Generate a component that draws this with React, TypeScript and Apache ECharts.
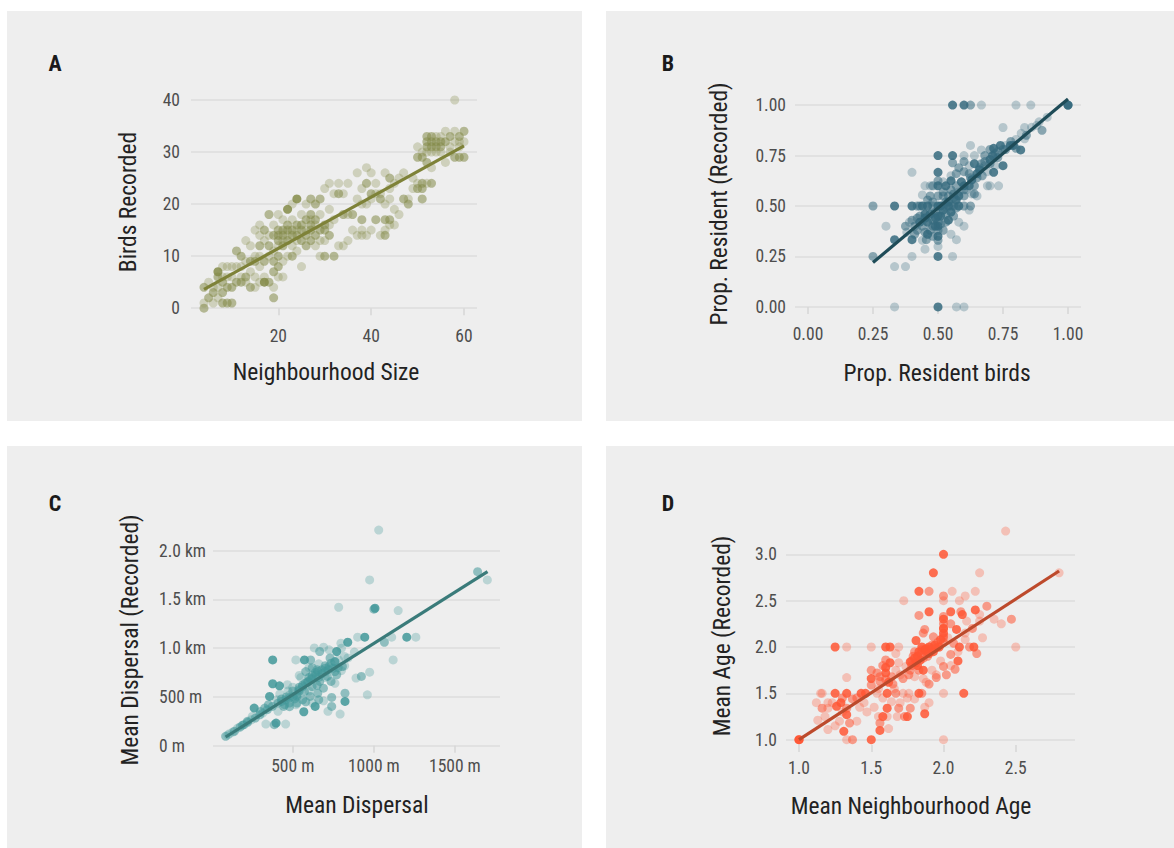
import React, { useEffect, useRef } from "react";
import * as echarts from "echarts";

const FONT = '"Roboto Condensed", "Liberation Sans Narrow", "DejaVu Sans Condensed", Roboto, sans-serif';

// ---------- Panel A: Neighbourhood size vs birds recorded ----------
const pointsA = [
  [4,0,2],[4,4,2],[4,1,1],[5,2,2],[5,5,1],[6,3,2],[6,1,1],[6,4,1],[7,7,3],[7,6,2],[7,4,1],[7,2,1],[8,8,1],[8,1,2],[8,3,2],[8,5,2],[8,6,1],
  [9,1,2],[9,4,2],[9,8,1],[9,6,1],[10,1,2],[10,6,1],[10,8,1],[10,4,2],[11,11,2],[11,5,2],[11,8,1],[12,10,2],[12,6,1],[12,5,2],[12,8,1],
  [13,13,1],[13,5,1],[13,6,2],[13,9,1],[14,9,2],[14,4,2],[14,7,1],[14,12,1],[15,15,1],[15,10,1],[15,6,1],[15,4,1],[15,9,2],
  [16,5,1],[16,12,2],[16,10,1],[16,8,1],[16,16,1],[16,14,1],[17,5,3],[17,15,2],[17,9,2],[17,6,1],[17,13,1],[18,18,2],[18,5,2],[18,10,1],
  [18,12,2],[18,14,1],[19,2,2],[19,7,2],[19,9,2],[19,14,2],[19,4,1],[19,11,1],[19,16,1],[20,8,2],[20,13,2],[20,15,2],[20,18,1],[20,10,2],
  [20,6,1],[20,12,1],[20,14,2],[21,12,2],[21,17,1],[21,14,2],[21,9,1],[21,6,1],[21,15,2],[21,13,1],[22,19,3],[22,15,2],[22,13,2],[22,10,1],
  [22,16,2],[22,14,1],[23,20,1],[23,15,2],[23,12,1],[23,17,1],[23,10,2],[23,14,2],[24,21,3],[24,16,2],[24,14,2],[24,11,1],[24,15,1],[24,13,1],
  [25,8,1],[25,15,2],[25,18,1],[25,13,2],[25,16,2],[26,17,2],[26,14,2],[26,12,2],[26,20,1],[26,15,1],[27,21,2],[27,18,2],[27,15,2],[27,13,2],
  [27,16,2],[27,17,1],[28,20,2],[28,17,2],[28,14,2],[28,12,1],[28,16,1],[29,21,2],[29,15,2],[29,10,1],[29,18,1],[29,13,1],[30,23,1],[30,10,2],
  [30,16,2],[30,13,1],[30,15,2],[31,24,1],[31,19,1],[31,14,2],[31,16,1],[32,10,2],[32,17,1],[32,22,1],[33,22,2],[33,24,1],[33,12,1],[34,18,2],
  [34,22,1],[34,12,1],[35,24,1],[35,18,1],[35,13,1],[36,18,2],[36,15,1],[37,26,1],[37,14,1],[37,21,1],[38,20,1],[38,17,2],[38,15,1],[38,14,1],
  [38,23,1],[39,27,1],[39,24,2],[39,20,1],[39,14,1],[40,22,2],[40,26,1],[40,15,1],[40,21,1],[41,17,2],[41,24,1],[41,22,1],[42,21,2],[42,14,1],
  [42,22,1],[43,17,2],[43,15,1],[43,26,1],[43,14,2],[43,20,1],[44,25,2],[44,23,1],[44,17,2],[44,21,1],[44,16,1],[45,16,1],[45,24,1],[45,19,1],
  [46,18,1],[46,25,1],[47,26,1],[47,21,2],[48,20,2],[48,21,1],[49,23,1],[49,25,1],[50,23,2],[50,24,1],[50,29,2],[50,31,1],[51,21,2],[51,23,2],
  [51,29,2],[51,30,1],[51,24,2],[52,33,2],[52,31,2],[52,28,2],[52,24,1],[52,30,1],[52,32,2],[53,32,2],[53,33,2],[53,27,1],[53,24,2],[53,31,2],
  [53,30,1],[54,32,2],[54,31,2],[54,33,1],[54,30,1],[55,32,2],[55,33,1],[55,31,2],[55,30,1],[56,34,1],[56,32,2],[56,28,1],[57,30,1],[57,33,2],
  [57,31,1],[58,40,1],[58,34,1],[58,29,2],[58,32,1],[59,32,1],[59,33,2],[59,29,2],[59,31,1],[60,34,2],[60,29,2],[60,32,1]
];
const trendA = [[4, 3.6], [60, 31.2]];
const xTicksA = [20, 40, 60];
const yTicksA = [0, 10, 20, 30, 40];

// ---------- Panel B: proportion resident ----------
const pointsB = [
  [0.556,1,3],[0.6,1,3],[0.625,1,2],[0.667,1,1],[0.8,1,1],[0.857,1,1],[1,1,3],[1,1,3],
  [0.333,0,1],[0.5,0,3],[0.571,0,1],[0.6,0,1],
  [0.25,0.5,2],[0.333,0.5,3],[0.25,0.25,2],[0.5,0.25,3],[0.556,0.25,1],[0.333,0.2,1],[0.375,0.2,1],[0.3,0.4,1],[0.4,0.667,1],[0.4,0.25,1],
  [0.45,0.286,1],[0.571,0.333,1],[0.6,0.4,1],[0.75,0.889,1],[0.833,0.889,1],[0.9,0.875,2],[0.889,0.917,1],[0.625,0.8,1],[0.7,0.6,1],
  [0.733,0.6,1],[0.75,0.7,3],[0.714,0.667,3],[0.818,0.778,3],[0.833,0.833,1],[0.778,0.8,3],[0.8,0.786,2],[0.714,0.786,3],[0.68,0.75,2],
  [0.667,0.778,1],[0.5,0.75,3],[0.556,0.75,3],[0.6,0.75,1],[0.556,0.714,2],[0.5,0.667,3],[0.5,0.625,2],[0.5,0.6,3],
  [0.4,0.5,3],[0.42,0.5,2],[0.44,0.5,3],[0.46,0.5,3],[0.48,0.5,2],[0.5,0.5,3],[0.52,0.5,2],[0.54,0.5,3],[0.56,0.5,2],[0.58,0.5,3],[0.6,0.5,2],[0.625,0.5,2],
  [0.333,0.333,3],[0.4,0.333,3],[0.455,0.333,2],[0.5,0.35,3],[0.375,0.4,2],[0.4,0.43,2],[0.43,0.45,2],[0.45,0.46,3],[0.48,0.43,2],[0.51,0.45,3],
  [0.53,0.46,2],[0.55,0.5,2],[0.57,0.53,3],[0.6,0.55,2],[0.6,0.6,3],[0.64,0.6,2],[0.625,0.64,2],[0.65,0.66,3],[0.667,0.71,2],[0.64,0.71,3],
  [0.7,0.73,3],[0.73,0.74,2],[0.63,0.56,1],[0.64,0.56,2],[0.55,0.625,3],[0.57,0.66,2],[0.58,0.69,2],[0.6,0.67,2],[0.46,0.53,2],[0.47,0.55,2],
  [0.45,0.6,1],[0.48,0.6,2],[0.44,0.555,1],[0.52,0.57,2],[0.53,0.6,3],[0.54,0.55,2],[0.51,0.5,3],[0.52,0.38,2],[0.54,0.43,3],[0.56,0.45,2],
  [0.47,0.38,2],[0.45,0.37,2],[0.42,0.38,2],[0.38,0.37,1],[0.5,0.4,3],[0.5,0.42,2],[0.48,0.4,2],[0.46,0.42,3],[0.44,0.4,2],[0.42,0.44,2],
  [0.55,0.58,2],[0.57,0.6,2],[0.59,0.62,3],[0.62,0.66,2],[0.66,0.69,2],[0.68,0.7,1],[0.7,0.78,2],[0.72,0.76,2],[0.75,0.78,2],[0.76,0.8,1],
  [0.78,0.82,2],[0.8,0.83,1],[0.82,0.86,1],[0.84,0.85,2],[0.86,0.89,1],[0.88,0.9,1],[0.92,0.94,1],[0.5,0.55,2],[0.5,0.45,3],[0.5,0.38,2],
  [0.5,0.33,2],[0.49,0.47,2],[0.53,0.52,2],[0.56,0.56,2],[0.58,0.57,1],[0.61,0.58,1],[0.55,0.65,1],[0.52,0.62,1],[0.47,0.6,1],[0.43,0.5,2],
  [0.39,0.42,1],[0.41,0.36,2],[0.44,0.33,1],[0.5,0.3,1],[0.55,0.36,1],[0.58,0.42,1],[0.62,0.48,1],[0.65,0.55,1],[0.62,0.7,1],[0.64,0.75,1],
  [0.6,0.72,2],[0.67,0.65,2],[0.69,0.67,1],[0.72,0.7,1],[0.69,0.6,1],
  [0.45,0.44,3],[0.47,0.46,3],[0.49,0.44,3],[0.52,0.48,3],[0.53,0.42,2],[0.55,0.47,3],[0.57,0.49,2],[0.58,0.55,3],[0.6,0.58,2],[0.62,0.6,3],
  [0.63,0.63,3],[0.65,0.64,2],[0.66,0.68,3],[0.68,0.72,2],[0.7,0.71,2],[0.71,0.75,3],[0.73,0.77,2],[0.74,0.8,3],[0.76,0.78,2],[0.79,0.8,3],
  [0.43,0.42,3],[0.41,0.4,2],[0.46,0.36,3],[0.48,0.35,2],[0.49,0.4,3],[0.51,0.41,2],[0.54,0.52,3],[0.56,0.54,2],[0.52,0.55,2],[0.48,0.52,2]
];
const trendB = [[0.25, 0.22], [1, 1.03]];
const xTicksB = [0, 0.25, 0.5, 0.75, 1];
const yTicksB = [0, 0.25, 0.5, 0.75, 1];

// ---------- Panel C: mean dispersal (metres) ----------
const pointsC = [
  [1030,2212,1],[974,1700,1],[783,1420,1],[1007,1410,3],[1000,1400,2],[1150,1386,1],[1640,1785,2],[1700,1700,1],[944,1113,3],[900,1113,1],
  [1203,1113,3],[1259,1113,1],[1065,1061,2],[1110,1113,1],[1119,880,1],[839,1061,3],[633,1003,1],[797,1051,1],[376,880,3],[519,880,1],
  [572,880,3],[610,880,2],[974,754,1],[923,710,2],[890,693,1],[960,522,1],[822,539,2],[822,454,3],[740,495,2],[740,403,2],[792,324,1],
  [717,352,1],[638,403,3],[568,348,3],[456,222,1],[397,232,3],[386,215,2],[334,222,1],[262,386,3],[327,386,2],[357,505,3],[376,635,3],
  [418,614,3],[467,625,1],
  [86,96,2],[110,123,1],[140,147,2],[175,191,2],[199,215,2],[222,239,2],[245,266,1],[269,283,2],[297,317,2],[315,334,1],[343,369,2],
  [374,403,2],[409,437,2],[432,454,2],[456,471,2],[479,488,2],[502,505,2],[526,522,2],[537,573,2],[561,607,2],[577,642,2],[596,659,2],
  [619,693,2],[643,727,2],[654,761,2],[678,778,2],[701,795,2],[724,812,2],[736,846,2],[759,863,2],[783,880,1],[713,710,2],[666,659,2],
  [619,607,2],[572,556,2],[526,505,2],[479,437,2],[444,403,2],[409,352,1],[526,437,2],[561,471,2],[607,505,2],[654,539,2],[689,590,2],
  [736,659,2],[771,727,2],[806,812,2],[748,795,2],[818,915,1],[771,966,3],[724,983,1],[666,966,2],
  [600,700,2],[620,720,2],[640,750,2],[660,700,2],[680,740,2],[700,760,2],[590,650,2],[610,680,2],[650,780,2],[700,820,2],[720,780,2],
  [560,620,2],[540,560,2],[500,560,2],[480,520,1],[460,500,2],[430,480,2],[420,530,1],[500,600,1],[600,560,1],[650,620,2],[700,700,1],
  [760,760,2],[780,800,2],[800,770,1],[820,820,1],[600,800,1],[550,700,1],[450,420,2],[480,400,2],[520,420,1],[580,450,2],[620,440,1],
  [660,470,2],[690,460,1],[540,600,2],[510,480,2],[470,560,1],[400,470,1],[350,420,2],[300,350,2],[250,300,1],[220,250,2],[190,210,2],
  [160,180,1],[130,140,1],[100,110,1],[760,640,1],[840,900,1],[880,960,1],[800,1000,1],[690,1010,1],[730,900,2],[760,860,2],[660,840,1],
  [620,800,2],[580,760,2],[540,720,1]
];
const trendC = [[86, 89], [1701, 1785]];
const xTicksC = [500, 1000, 1500];
const xTickLabelsC = ["500 m", "1000 m", "1500 m"];
const yTicksC = [0, 500, 1000, 1500, 2000];
const yTickLabelsC = ["0 m", "500 m", "1.0 km", "1.5 km", "2.0 km"];

// ---------- Panel D: mean age ----------
const pointsD = [
  [2.43,3.25,1],[2.0,3.0,3],[1.93,2.8,3],[2.25,2.8,1],[2.8,2.8,1],[1.83,2.6,3],[1.9,2.6,2],[2.06,2.6,1],[2.22,2.6,1],[1.725,2.5,1],
  [2.0,2.55,2],[2.0,2.5,1],[2.11,2.5,1],[2.15,2.55,1],[1.83,2.34,2],[1.9,2.38,3],[2.05,2.38,3],[2.12,2.38,2],[2.3,2.44,2],[2.22,2.4,3],
  [2.4,2.25,1],[2.47,2.3,2],[2.27,2.1,1],[2.5,2.0,1],[2.0,2.33,2],[2.0,2.25,2],[2.0,2.2,2],[2.0,2.15,3],[2.0,2.1,2],[2.0,2.05,2],
  [1.87,2.19,2],[1.93,2.11,2],[1.81,2.07,3],[1.86,2.15,2],[2.11,2.0,3],[2.21,2.0,3],[2.18,2.0,2],[2.23,1.93,2],[2.05,1.92,2],[2.1,1.85,3],
  [2.08,1.76,2],[2.0,1.79,2],[1.95,1.67,2],[1.9,1.6,2],[2.0,1.5,1],[2.14,1.5,3],[2.0,1.0,1],[1.25,2.0,3],[1.33,2.0,1],[1.5,2.0,1],
  [1.6,2.0,3],[1.63,2.0,3],[1.33,1.67,1],[1.0,1.0,3],[1.0,1.0,3],[1.5,1.0,3],[1.37,1.0,2],[1.33,1.0,1],[1.31,1.09,3],[1.35,1.18,2],
  [1.4,1.2,1],[1.25,1.15,1],[1.2,1.11,1],[1.56,1.1,3],[1.56,1.18,2],[1.55,1.25,1],[1.58,1.25,3],[1.61,1.25,1],[1.13,1.21,1],[1.16,1.34,2],
  [1.16,1.5,1],[1.2,1.34,1],[1.25,1.5,3],[1.33,1.5,3],[1.43,1.5,3],[1.46,1.5,3],[1.29,1.4,3],[1.33,1.34,2],[1.33,1.27,3],[1.37,1.44,2],
  [1.45,1.4,1],[1.23,1.4,1],[1.2,1.4,1],[1.12,1.4,1],[1.15,1.5,1],[1.5,1.75,2],[1.5,1.66,3],[1.5,1.59,2],[1.54,1.72,2],[1.56,1.68,2],
  [1.6,1.78,3],[1.6,1.86,2],[1.63,1.83,3],[1.67,1.75,1],[1.64,1.68,2],[1.61,1.5,3],[1.67,1.5,2],[1.72,1.5,1],[1.76,1.5,1],[1.83,1.5,3],
  [1.85,1.5,2],[1.54,1.5,1],[1.61,1.34,3],[1.69,1.34,2],[1.77,1.34,2],[1.75,1.25,3],[1.73,1.25,2],[1.68,1.25,1],[1.87,1.28,3],[1.87,1.35,1],
  [1.8,1.44,1],[1.64,1.41,1],[1.72,1.66,2],[1.77,1.75,2],[1.8,1.68,1],[1.86,1.66,1],[1.81,1.83,3],[1.84,1.86,3],[1.89,1.9,2],[1.93,1.95,3],
  [1.87,1.97,3],[1.95,1.99,2],[1.9,2.0,3],[1.85,1.97,2],[1.79,1.9,2],[1.77,1.84,3],[1.74,1.79,1],[1.69,1.83,1],[1.67,1.93,1],[1.69,2.0,1],
  [1.83,1.75,2],[1.86,1.75,3],[2.09,2.19,3],[2.07,2.04,2],[2.03,2.1,1],[2.15,2.08,1],[2.16,2.28,1],[2.13,2.35,3],[2.25,2.28,1],
  [1.8,1.95,2],[1.82,1.9,3],[1.84,1.92,2],[1.86,1.88,2],[1.88,1.95,2],[1.92,2.02,2],[1.96,2.05,2],[1.78,1.8,2],[1.76,1.7,2],[1.7,1.7,1],
  [1.65,1.6,2],[1.6,1.65,2],[1.55,1.55,1],[1.4,1.45,2],[1.42,1.35,1],[1.3,1.3,1],[1.28,1.2,1],[1.18,1.25,1],[1.7,1.4,1],[1.75,1.45,1],
  [1.9,1.4,1],[1.95,1.7,1],[2.02,1.7,2],[2.05,1.8,1],[2.1,1.95,1],[2.15,2.15,1],[2.2,2.2,2],[2.25,2.35,1],[2.35,2.3,1],[2.05,2.25,2],
  [1.98,1.85,1],[1.92,1.75,1],[1.88,1.62,1],[1.66,1.55,1],[1.58,1.45,1],[1.52,1.35,1],[1.47,1.3,1],[1.62,1.12,1],
  [1.83,1.95,3],[1.85,2.0,3],[1.88,1.98,3],[1.9,1.93,3],[1.92,1.98,2],[1.94,2.02,3],[1.97,2.0,3],[1.8,1.88,3],[1.78,1.85,2],[1.82,1.8,3],
  [2.0,2.3,3],[2.0,2.2,3],[2.0,2.12,2],[1.98,2.08,3],[1.6,1.72,3],[1.58,1.8,2],[1.62,1.62,3],[1.56,1.63,2],[1.3,1.45,2],[1.26,1.36,3]
];
const trendD = [[1, 1], [2.8, 2.82]];
const xTicksD = [1, 1.5, 2, 2.5];
const yTicksD = [1, 1.5, 2, 2.5, 3];

const OPACITY: Record<number, number> = { 1: 0.3, 2: 0.55, 3: 0.85 };

const TICK_COLOR = "#4d4d4d";
const GRID_COLOR = "#dcdcdc";
const TICK_SIZE = 17.5;
const TITLE_SIZE = 23.5;

function xAxis(gridIndex: number, min: number, max: number, ticks: number[], fmt: (v: number) => string, margin: number) {
  return {
    type: "value", gridIndex, min, max,
    axisLine: { show: false },
    axisTick: { show: true, length: 7, customValues: ticks, lineStyle: { color: "#d6d6d6", width: 1.5 } },
    axisLabel: { customValues: ticks, formatter: fmt, color: TICK_COLOR, fontSize: TICK_SIZE, fontFamily: FONT, margin },
    splitLine: { show: false },
  };
}

function yAxis(gridIndex: number, min: number, max: number, ticks: number[], fmt: (v: number) => string, margin: number, align: string = "right") {
  return {
    type: "value", gridIndex, min, max,
    axisLine: { show: false },
    axisTick: { show: false, customValues: ticks },
    axisLabel: { customValues: ticks, formatter: fmt, color: TICK_COLOR, fontSize: TICK_SIZE, fontFamily: FONT, margin, align },
    splitLine: { show: true, lineStyle: { color: GRID_COLOR, width: 1.5 } },
  };
}

function scatter(idx: number, pts: number[][], color: string) {
  return {
    type: "scatter", xAxisIndex: idx, yAxisIndex: idx, symbolSize: 9, z: 2,
    itemStyle: { color },
    data: pts.map((p) => ({ value: [p[0], p[1]], itemStyle: { opacity: OPACITY[p[2]] } })),
  };
}

function trend(idx: number, pts: number[][], color: string) {
  return {
    type: "line", xAxisIndex: idx, yAxisIndex: idx, symbol: "none", z: 3,
    lineStyle: { color, width: 3.2 }, data: pts,
  };
}

function label(text: string, x: number, y: number) {
  return { type: "text", x, y, z: 10, style: { text, fill: "#1a1a1a", fontSize: 22, fontWeight: "bold", fontFamily: FONT, align: "center", verticalAlign: "middle" } };
}
function title(text: string, x: number, y: number, rotate = false) {
  return {
    type: "text", x, y, z: 10, rotation: rotate ? Math.PI / 2 : 0,
    style: { text, fill: "#222222", fontSize: TITLE_SIZE, fontFamily: FONT, align: "center", verticalAlign: "middle" },
  };
}

export default function App() {
  const ref = useRef<HTMLDivElement>(null);
  useEffect(() => {
    if (!ref.current) return;
    const chart = echarts.init(ref.current, null, { renderer: "svg" });
    const f2 = (v: number) => v.toFixed(2);
    const f1 = (v: number) => v.toFixed(1);
    const fi = (v: number) => String(Math.round(v));
    const mapLabel = (ticks: number[], labels: string[]) => (v: number) => {
      const i = ticks.findIndex((t) => Math.abs(t - v) < 1e-6);
      return i >= 0 ? labels[i] : "";
    };
    chart.setOption({
      animation: false,
      backgroundColor: "#ffffff",
      grid: [
        { left: 191, top: 89.6, width: 286, height: 226.4 },
        { left: 795, top: 95, width: 286, height: 219 },
        { left: 213, top: 521, width: 287, height: 227 },
        { left: 786, top: 521, width: 289, height: 224 },
      ],
      xAxis: [
        xAxis(0, 1.2, 62.8, xTicksA, fi, 11),
        xAxis(1, -0.05, 1.05, xTicksB, f2, 11),
        xAxis(2, 8, 1778, xTicksC, mapLabel(xTicksC, xTickLabelsC), 9),
        xAxis(3, 0.91, 2.91, xTicksD, f1, 14),
      ],
      yAxis: [
        yAxis(0, -1.5, 42, yTicksA, fi, 11),
        yAxis(1, -0.035, 1.05, yTicksB, f2, 9),
        yAxis(2, -24, 2305, yTicksC, mapLabel(yTicksC, yTickLabelsC), 54, "left"),
        yAxis(3, 0.943, 3.359, yTicksD, f1, 9),
      ],
      series: [
        scatter(0, pointsA, "#848b48"), trend(0, trendA, "#7e8238"),
        scatter(1, pointsB, "#356a7e"), trend(1, trendB, "#1f4c58"),
        scatter(2, pointsC, "#419899"), trend(2, trendC, "#3a7b7a"),
        scatter(3, pointsD, "#ff5634"), trend(3, trendD, "#bd4a2c"),
      ],
      graphic: [
        { type: "rect", z: -100, shape: { x: 7, y: 11, width: 575, height: 410 }, style: { fill: "#eeeeee" } },
        { type: "rect", z: -100, shape: { x: 606, y: 11, width: 568, height: 410 }, style: { fill: "#eeeeee" } },
        { type: "rect", z: -100, shape: { x: 7, y: 446, width: 575, height: 402 }, style: { fill: "#eeeeee" } },
        { type: "rect", z: -100, shape: { x: 606, y: 446, width: 568, height: 402 }, style: { fill: "#eeeeee" } },
        label("A", 55, 63), label("B", 668, 63), label("C", 55, 503), label("D", 668, 503),
        title("Neighbourhood Size", 326, 372), title("Birds Recorded", 128, 202, true),
        title("Prop. Resident birds", 937, 373), title("Prop. Resident (Recorded)", 719, 204, true),
        title("Mean Dispersal", 357, 805), title("Mean Dispersal (Recorded)", 130, 640, true),
        title("Mean Neighbourhood Age", 911, 806), title("Mean Age (Recorded)", 722, 636, true),
      ],
    });
    return () => chart.dispose();
  }, []);
  return <div ref={ref} style={{ position: "absolute", left: 0, top: 0, width: 1174, height: 848 }} />;
}
